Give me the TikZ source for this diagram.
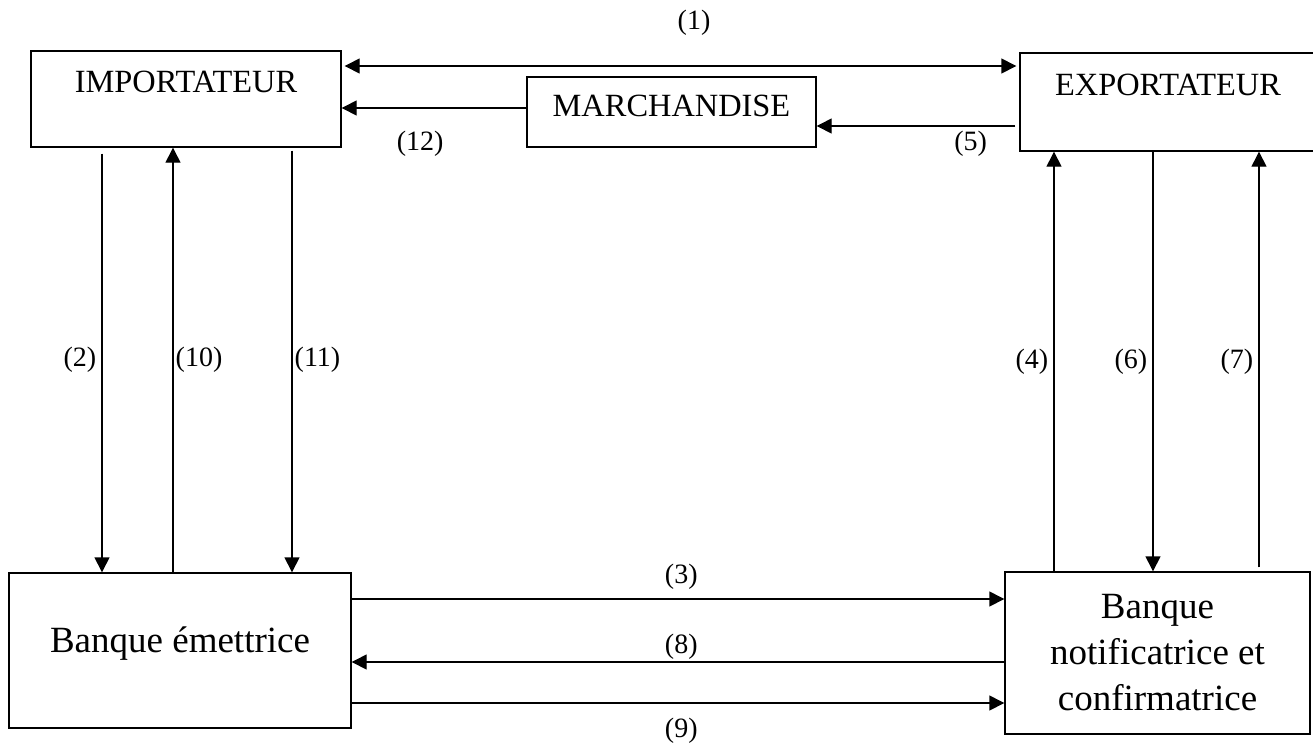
\documentclass[tikz,border=0pt]{standalone}
\usepackage{fontspec}
\setmainfont{Liberation Serif}
\usepackage{tikz}
\usetikzlibrary{arrows.meta,calc}

\begin{document}
\begin{tikzpicture}[
    x=0.5pt, y=-0.5pt,
    box/.style={
        draw,
        line width=0.7pt,
        inner sep=0pt,
        font=\fontsize{16.2}{19}\selectfont
    },
    bank/.style={
        draw,
        line width=0.7pt,
        inner sep=0pt,
        align=center,
        font=\fontsize{18.5}{23}\selectfont
    },
    arr/.style={-{Triangle[length=7.5pt,width=7.5pt]},line width=0.7pt},
    dblarr/.style={{Triangle[length=7.5pt,width=7.5pt]}-{Triangle[length=7.5pt,width=7.5pt]},line width=0.7pt},
    lab/.style={
        font=\fontsize{14}{16}\selectfont,
        inner sep=1pt
    }
]

\useasboundingbox (0,0) rectangle (1313,745);

% ---------------------------------------------------------
% Partenaires du credit documentaire
% ---------------------------------------------------------

\node[box, minimum width=155pt, minimum height=48pt,
      text height=11pt, text depth=18pt] (imp) at (186,99)
{IMPORTATEUR};

\node[box, minimum width=144.5pt, minimum height=35pt,
      text height=11pt, text depth=6.5pt] (march) at (671.5,112)
{MARCHANDISE};

\node[box, minimum width=148pt, minimum height=49pt,
      text height=11pt, text depth=18pt] (exp) at (1168,102)
{EXPORTATEUR};

\node[bank, minimum width=171pt, minimum height=77.5pt,
      text height=13pt, text depth=11.5pt] (emet) at (180,650.5)
{Banque émettrice};

\node[bank, minimum width=152.5pt, minimum height=81pt] (notif) at (1157.5,653)
{Banque\\notificatrice et\\confirmatrice};

% ---------------------------------------------------------
% Flux entre les partenaires
% ---------------------------------------------------------

\draw[dblarr, shorten <=1.5pt, shorten >=1.5pt]
([yshift=16.5pt]imp.east) --
node[lab, pos=0.52, yshift=21.5pt]{(1)}
([yshift=16.5pt]imp.east -| exp.west);

\draw[arr]
([yshift=2pt]march.west) --
node[lab, pos=0.575, yshift=-17.75pt]{(12)}
([yshift=2pt]march.west -| imp.east);

\draw[arr, shorten <=2pt]
([yshift=-12pt]exp.west) --
node[lab, pos=0.24, yshift=-9pt]{(5)}
([yshift=-12pt]exp.west -| march.east);

% importateur <-> banque emettrice
\draw[arr, shorten <=3pt]
([xshift=-42pt]imp.south) --
node[lab, midway, left=1.5pt]{(2)}
([xshift=-42pt]imp.south |- emet.north);

\draw[arr]
([xshift=-6.5pt]imp.south |- emet.north) --
node[lab, midway, right=0pt]{(10)}
([xshift=-6.5pt]imp.south);

\draw[arr, shorten <=1.5pt]
([xshift=53pt]imp.south) --
node[lab, midway, right=0pt]{(11)}
([xshift=53pt]imp.south |- emet.north);

% exportateur <-> banque notificatrice
\draw[arr]
([xshift=-57pt]exp.south |- notif.north) --
node[lab, midway, left=1.5pt]{(4)}
([xshift=-57pt]exp.south);

\draw[arr]
([xshift=-7.5pt]exp.south) --
node[lab, midway, left=1.5pt]{(6)}
([xshift=-7.5pt]exp.south |- notif.north);

\draw[arr, shorten <=2pt]
([xshift=45.5pt]exp.south |- notif.north) --
node[lab, midway, left=1.5pt]{(7)}
([xshift=45.5pt]exp.south);

% banque emettrice <-> banque notificatrice
\draw[arr]
([yshift=25.75pt]emet.east) --
node[lab, pos=0.505, yshift=11pt]{(3)}
([yshift=25.75pt]emet.east -| notif.west);

\draw[arr]
([yshift=-5.75pt]emet.east -| notif.west) --
node[lab, pos=0.495, yshift=7.5pt]{(8)}
([yshift=-5.75pt]emet.east);

\draw[arr]
([yshift=-26.25pt]emet.east) --
node[lab, pos=0.505, yshift=-14pt]{(9)}
([yshift=-26.25pt]emet.east -| notif.west);

\end{tikzpicture}
\end{document}
